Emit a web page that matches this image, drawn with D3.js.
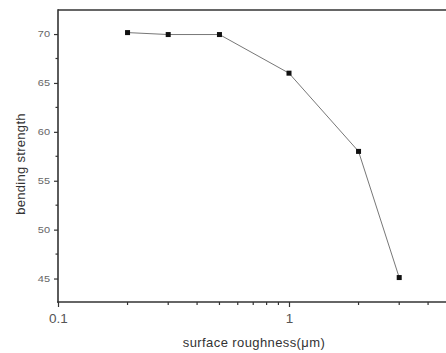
<!DOCTYPE html>
<html><head><meta charset="utf-8">
<script src="https://cdn.jsdelivr.net/npm/d3@7"></script>
<style>body{margin:0;background:#fff}svg{display:block}</style>
</head><body>
<script>
const roughness = [0.2, 0.3, 0.5, 1, 2, 3];
const strength = [70.15, 69.95, 69.95, 66.0, 58.0, 45.1];
const yTicks = [45, 50, 55, 60, 65, 70];
const xTickLabels = [0.1, 1];
const xMinorTicks = [0.2,0.3,0.4,0.5,0.6,0.7,0.8,0.9,2,3,4,5,6,7,8,9];
const yMinorTicks = [47.5, 52.5, 57.5, 62.5, 67.5];

const W = 446, H = 353;
const mLeft = 58, mTop = 10, mBottom = 302;
const svg = d3.select("body").append("svg").attr("width", W).attr("height", H);

const x = d3.scaleLog().domain([0.1, 10]).range([mLeft, mLeft + 462]);
const y = d3.scaleLinear().domain([42.6, 72.46]).range([mBottom, mTop]);

const axisColor = "#333";
const font = "Liberation Sans, Arial, sans-serif";
// frame
svg.append("line").attr("x1", mLeft).attr("x2", W + 10).attr("y1", mTop).attr("y2", mTop)
  .attr("stroke", axisColor).attr("stroke-width", 1.6);

// y axis
const gy = svg.append("g").attr("transform", `translate(${mLeft},0)`)
  .call(d3.axisLeft(y).tickValues(yTicks).tickSize(4).tickPadding(4).tickFormat(d3.format("d")));
gy.select(".domain").remove();
gy.selectAll(".tick line").attr("stroke", axisColor).attr("stroke-width", 1.2);
gy.selectAll(".tick text").attr("fill", "#666").style("font-family", font).style("font-size", "10px")
  .attr("transform", "scale(1.1,0.9)").attr("x", -8 / 1.1);
svg.append("g").selectAll("line").data(yMinorTicks).join("line")
  .attr("x1", mLeft - 2.5).attr("x2", mLeft).attr("y1", d => y(d)).attr("y2", d => y(d))
  .attr("stroke", axisColor).attr("stroke-width", 1.2);
svg.append("line").attr("x1", mLeft).attr("x2", mLeft).attr("y1", mTop - 0.8).attr("y2", mBottom + 0.8)
  .attr("stroke", axisColor).attr("stroke-width", 1.6);

// x axis
const gx = svg.append("g").attr("transform", `translate(0,${mBottom})`)
  .call(d3.axisBottom(x).tickValues(xTickLabels).tickSize(5).tickPadding(6).tickFormat(d => d === 1 ? "1" : "0.1"));
gx.select(".domain").remove();
gx.selectAll(".tick line").attr("stroke", axisColor).attr("stroke-width", 1.2);
gx.selectAll(".tick text").attr("fill", "#555").style("font-family", font).style("font-size", "13.5px");
svg.append("g").selectAll("line").data(xMinorTicks).join("line")
  .attr("x1", d => x(d)).attr("x2", d => x(d)).attr("y1", mBottom).attr("y2", mBottom + 3)
  .attr("stroke", axisColor).attr("stroke-width", 1.2);
svg.append("line").attr("x1", mLeft - 0.8).attr("x2", W + 10).attr("y1", mBottom).attr("y2", mBottom)
  .attr("stroke", axisColor).attr("stroke-width", 1.6);

// line and points
const pts = roughness.map((r, i) => [r, strength[i]]);
svg.append("path").datum(pts)
  .attr("d", d3.line().x(d => x(d[0])).y(d => y(d[1])))
  .attr("fill", "none").attr("stroke", "#777").attr("stroke-width", 1);
svg.append("g").selectAll("rect").data(pts).join("rect")
  .attr("x", d => x(d[0]) - 2.5).attr("y", d => y(d[1]) - 2.5)
  .attr("width", 5).attr("height", 5).attr("fill", "#111");

// titles
svg.append("text").attr("x", 254).attr("y", 347).attr("text-anchor", "middle")
  .attr("fill", "#333").style("font-family", font).style("font-size", "13px")
  .style("letter-spacing", "0.4px")
  .text("surface roughness(μm)");
svg.append("text").attr("transform", "translate(24.5,164) rotate(-90)").attr("text-anchor", "middle")
  .attr("fill", "#333").style("font-family", font).style("font-size", "13px")
  .style("letter-spacing", "0.3px")
  .text("bending strength");
</script>
</body></html>
